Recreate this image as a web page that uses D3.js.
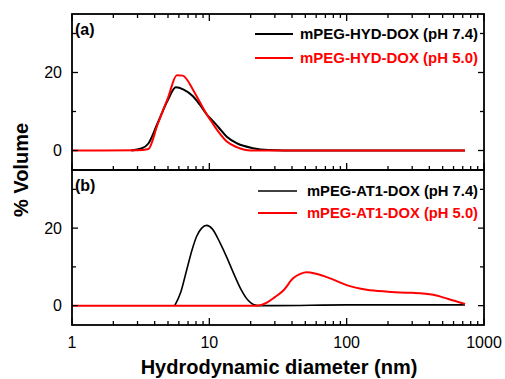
<!DOCTYPE html>
<html><head><meta charset="utf-8">
<script src="https://cdn.jsdelivr.net/npm/d3@7"></script>
<style>body{margin:0;background:#fff}svg{display:block}text{font-family:"Liberation Sans",Arial,sans-serif}</style>
</head><body>
<svg id="c" width="505" height="379"></svg>
<script>
// Panel (a)
const aBlackX = [2.7, 3.2, 3.6, 4.2, 5.0, 5.7, 6.5, 7.6, 8.5, 9.6, 10.6, 11.7, 13.4, 16, 20.8, 27, 35, 727];
const aBlackY = [0, 0.5, 1.8, 7.0, 13.0, 16.2, 15.6, 13.9, 11.8, 9.2, 7.6, 5.9, 3.5, 1.8, 0.6, 0.1, 0, 0];
const aRedX = [1, 3.0, 3.6, 4.2, 5.0, 5.8, 6.4, 7.6, 8.5, 9.6, 10.6, 11.7, 13.4, 16, 20, 727];
const aRedY = [0, 0.05, 0.4, 6.7, 13.5, 19.3, 19.2, 15.6, 12.5, 9.2, 6.9, 4.7, 2.3, 0.8, 0, 0];
// Panel (b)
const bBlackX = [5.6, 6.2, 6.84, 7.5, 8.09, 8.8, 9.57, 10.5, 11.97, 13.5, 15.0, 17, 19, 20.9, 23, 30, 100, 727];
const bBlackY = [0, 3.5, 9.2, 14.5, 17.9, 20.0, 20.7, 19.8, 16.2, 12.2, 8.4, 4.2, 1.5, 0.3, 0, 0, 0.2, 0.2];
const bRedX = [1, 22.1, 26.2, 30, 34.6, 40.9, 46, 51.2, 60, 80, 100, 140, 200, 245, 300, 427, 550, 728];
const bRedY = [0, 0, 0.8, 2.2, 3.9, 7.1, 8.2, 8.6, 8.2, 6.7, 5.3, 4.1, 3.6, 3.4, 3.3, 2.8, 1.7, 0.4];

const legendA = ["mPEG-HYD-DOX (pH 7.4)", "mPEG-HYD-DOX (pH 5.0)"];
const legendB = ["mPEG-AT1-DOX (pH 7.4)", "mPEG-AT1-DOX (pH 5.0)"];
const xTickLabels = [1, 10, 100, 1000];
const yTickLabels = [0, 20];
const yTicksAll = [0, 10, 20, 30];

const svg = d3.select("#c");
const L = 72, R = 484;
const x = d3.scaleLog().domain([1, 1000]).range([L, R]);
const panels = [
  {top: 14, bot: 170, label: "(a)", legend: legendA, series: [[aBlackX, aBlackY, "#000", 2], [aRedX, aRedY, "#ff0000", 2]], legY: [34, 58], legX: [255, 293, 300], topTicks: true},
  {top: 170, bot: 325, label: "(b)", legend: legendB, series: [[bBlackX, bBlackY, "#000", 1.6], [bRedX, bRedY, "#ff0000", 2]], legY: [191, 213], legX: [258, 297, 307], topTicks: false}
];
const xticks = [];
for (let k = 0; k < 3; k++) for (let m = 1; m < 10; m++) xticks.push(m * Math.pow(10, k));
xticks.push(1000);

panels.forEach(p => {
  const y = d3.scaleLinear().domain([-5, 35]).range([p.bot, p.top]);
  const g = svg.append("g");
  const line = d3.line().x(d => x(d[0])).y(d => y(d[1])).curve(d3.curveMonotoneX);
  p.series.forEach(s => {
    g.append("path").datum(s[0].map((v, i) => [v, s[1][i]]))
      .attr("d", line).attr("fill", "none").attr("stroke", s[2]).attr("stroke-width", s[3]).attr("stroke-linejoin", "round");
  });
  xticks.forEach(t => {
    const major = xTickLabels.includes(t);
    const len = major ? 7 : 4;
    g.append("line").attr("x1", x(t)).attr("x2", x(t)).attr("y1", p.bot).attr("y2", p.bot - len).attr("stroke", "#000").attr("stroke-width", 1.3);
    if (p.topTicks) g.append("line").attr("x1", x(t)).attr("x2", x(t)).attr("y1", p.top).attr("y2", p.top + len).attr("stroke", "#000").attr("stroke-width", 1.3);
  });
  yTicksAll.forEach(t => {
    const major = yTickLabels.includes(t);
    const len = major ? 6 : 4;
    g.append("line").attr("x1", L).attr("x2", L + len).attr("y1", y(t)).attr("y2", y(t)).attr("stroke", "#000").attr("stroke-width", 1.3);
    g.append("line").attr("x1", R).attr("x2", R - len).attr("y1", y(t)).attr("y2", y(t)).attr("stroke", "#000").attr("stroke-width", 1.3);
  });
  yTickLabels.forEach(t => {
    g.append("text").attr("x", 62).attr("y", y(t)).attr("dy", "0.36em").attr("text-anchor", "end").attr("font-size", 16).text(t);
  });
  g.append("rect").attr("x", L).attr("y", p.top).attr("width", R - L).attr("height", p.bot - p.top)
    .attr("fill", "none").attr("stroke", "#000").attr("stroke-width", 1.8);
  g.append("text").attr("x", 75).attr("y", p.top + 15).attr("dy", "0.36em").attr("font-size", 16).attr("font-weight", "bold").text(p.label);
  p.legend.forEach((txt, i) => {
    const col = p.series[i][2];
    g.append("line").attr("x1", p.legX[0]).attr("x2", p.legX[1]).attr("y1", p.legY[i]).attr("y2", p.legY[i]).attr("stroke", col).attr("stroke-width", p.series[i][3]);
    g.append("text").attr("x", p.legX[2]).attr("y", p.legY[i]).attr("dy", "0.36em").attr("font-size", 15).attr("font-weight", "bold").attr("fill", col)
      .attr("textLength", i === 0 || true ? (p.label === "(a)" ? 178 : 171) : null).attr("lengthAdjust", "spacingAndGlyphs").text(txt);
  });
});

xTickLabels.forEach(t => {
  svg.append("text").attr("x", x(t)).attr("y", 348).attr("text-anchor", "middle").attr("font-size", 16).text(t);
});
svg.append("text").attr("x", 279).attr("y", 374).attr("text-anchor", "middle").attr("font-size", 20).attr("font-weight", "bold").text("Hydrodynamic diameter (nm)");
svg.append("text").attr("transform", "translate(28,170) rotate(-90)").attr("text-anchor", "middle").attr("font-size", 20).attr("font-weight", "bold").text("% Volume");
</script>
</body></html>
